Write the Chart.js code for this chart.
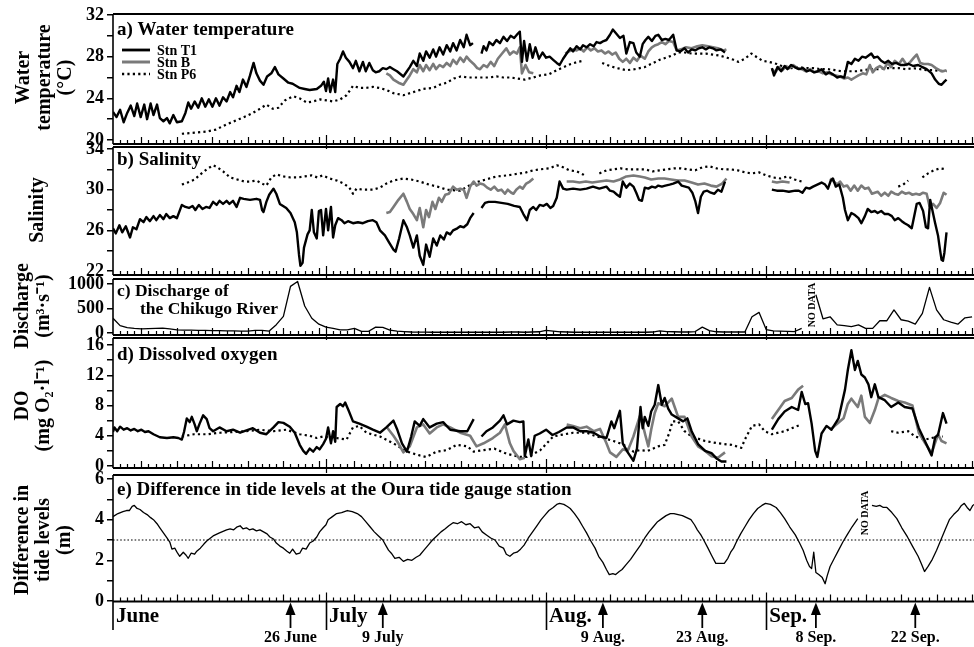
<!DOCTYPE html>
<html>
<head>
<meta charset="utf-8">
<script src="https://cdn.jsdelivr.net/npm/chart.js@4.4.1/dist/chart.umd.min.js"></script>
<style>
  html, body { margin: 0; padding: 0; background: #fff; }
  #wrap { position: relative; width: 974px; height: 647px; overflow: hidden; background: #fff; }
  #wrap canvas { position: absolute; left: 0; }
</style>
</head>
<body>
<div id="wrap"></div>
<script>
// ---- time axis: days counted from 1 June (0 = 1 June 00:00) ----
const DAY_MAX = 121.27;
const MONTH_NAMES = ['June', 'July', 'Aug.', 'Sep.'];
const MONTH_START = [0, 30, 61, 92];
const ARROW_DAYS = [25, 38, 69, 83, 99, 113];
const ARROW_LABELS = ['26 June', '9 July', '9 Aug.', '23 Aug.', '8 Sep.', '22 Sep.'];

// ---- tick labels ----
const TEMP_TICKS = [20, 24, 28, 32];
const SAL_TICKS = [22, 26, 30, 34];
const Q_TICKS = [0, 500, 1000];
const DO_TICKS = [0, 4, 8, 12, 16];
const TIDE_TICKS = [0, 2, 4, 6];
const TIDE_MEAN = 3;

// ---- a) water temperature (deg C), [day, value] ----
const TEMP_T1 = [[0.0,22.7],[0.5,22.2],[1.0,22.9],[1.5,21.7],[2.0,22.6],[2.5,23.3],[3.0,22.3],[3.4,23.5],[3.9,22.2],[4.4,23.4],[4.8,22.0],[5.3,23.5],[5.7,22.4],[6.2,23.4],[6.6,22.1],[7.1,21.8],[7.6,22.1],[8.0,21.6],[8.5,22.4],[9.0,21.7],[9.7,21.8],[10.2,22.6],[10.6,23.6],[11.0,23.0],[11.5,23.7],[12.0,23.1],[12.5,24.0],[13.0,23.2],[13.5,23.9],[14.0,23.2],[14.5,24.0],[15.0,23.3],[15.5,24.1],[16.0,23.7],[16.5,24.6],[16.9,24.1],[17.4,25.2],[17.8,24.6],[18.3,25.8],[18.8,25.1],[19.3,26.2],[19.8,27.4],[20.2,26.4],[20.7,25.7],[21.2,25.3],[21.7,26.1],[22.3,26.4],[22.8,27.0],[23.3,26.3],[24.0,25.9],[24.7,25.5],[25.3,25.4],[26.3,25.0],[27.0,24.9],[27.7,24.8],[28.7,24.9],[29.3,25.2],[29.7,25.6],[30.0,24.7],[30.3,25.9],[30.6,24.6],[31.0,25.8],[31.3,24.6],[31.6,27.3],[32.0,27.8],[32.4,28.5],[32.8,27.9],[33.3,27.5],[33.8,26.9],[34.2,27.6],[34.7,26.6],[35.2,27.5],[35.6,26.6],[36.1,27.4],[36.6,26.7],[37.0,26.5],[37.5,26.6],[38.0,26.9],[38.5,26.8],[39.0,27.0],[39.5,26.8],[40.0,26.6],[40.9,26.1],[41.4,26.6],[41.8,27.0],[42.3,27.6],[42.8,27.1],[43.2,28.3],[43.7,27.6],[44.1,28.5],[44.6,27.9],[45.1,28.7],[45.5,28.0],[46.0,28.9],[46.5,28.2],[47.0,29.1],[47.5,28.5],[47.9,29.3],[48.4,28.6],[48.9,29.6],[49.4,28.9],[49.8,30.1],[50.3,29.1],[50.7,29.3],[51.3,null],[51.9,28.3],[52.2,29.0],[52.6,28.6],[53.0,29.4],[53.5,29.1],[54.0,29.6],[54.5,29.3],[55.0,29.9],[55.5,29.5],[56.0,30.0],[56.5,29.8],[57.0,30.2],[57.3,30.4],[57.6,27.5],[57.9,29.5],[58.3,27.6],[58.7,29.2],[59.1,27.9],[59.5,28.9],[60.0,27.8],[60.5,28.4],[61.0,27.9],[61.5,28.0],[62.0,27.7],[62.5,27.4],[62.9,27.2],[63.4,27.8],[63.9,28.3],[64.4,28.8],[64.8,28.5],[65.3,29.0],[65.8,28.7],[66.2,29.1],[66.7,28.9],[67.2,29.2],[67.7,29.0],[68.1,29.4],[68.6,29.3],[69.1,29.5],[69.5,29.6],[70.0,30.1],[70.4,30.6],[70.9,30.2],[71.4,29.8],[71.9,30.0],[72.3,28.3],[72.8,29.4],[73.3,29.3],[73.7,28.4],[74.2,28.0],[74.6,29.2],[75.0,29.6],[75.4,29.9],[75.9,29.5],[76.4,30.0],[76.8,30.1],[77.3,29.6],[77.8,29.7],[78.3,29.6],[78.9,30.1],[79.4,28.6],[79.9,28.5],[80.5,28.8],[81.0,28.4],[81.5,28.7],[82.0,28.6],[82.5,28.8],[83.0,28.9],[83.5,28.7],[84.0,28.9],[84.5,28.8],[85.0,28.6],[85.6,28.7],[86.2,28.4],[89.0,null],[92.8,26.9],[93.1,26.2],[93.6,27.0],[94.1,26.6],[94.6,27.1],[95.0,26.8],[95.5,27.2],[96.0,27.0],[96.6,26.8],[97.2,26.9],[97.7,26.6],[98.2,26.7],[98.7,26.5],[99.3,26.6],[99.8,26.8],[100.4,26.3],[100.9,26.5],[101.4,26.3],[102.0,26.0],[102.5,26.1],[103.0,26.0],[103.5,27.5],[104.0,27.3],[104.5,27.8],[105.0,27.6],[105.5,28.0],[106.0,27.9],[106.8,28.3],[107.2,27.9],[107.7,28.0],[108.2,27.6],[108.7,27.4],[109.2,27.6],[109.7,27.3],[110.3,27.4],[110.9,27.2],[111.5,27.2],[112.1,27.3],[112.7,27.1],[113.4,27.2],[114.0,27.0],[114.6,26.8],[115.3,26.4],[115.8,25.8],[116.3,25.4],[116.7,25.3],[117.1,25.6],[117.4,25.8]];
const TEMP_B = [[38.5,26.4],[39.0,26.2],[39.5,25.8],[40.2,25.5],[40.9,25.3],[41.4,25.8],[41.8,26.2],[42.3,26.8],[42.8,26.5],[43.2,27.2],[43.7,26.6],[44.1,27.2],[44.6,26.7],[45.1,27.3],[45.5,26.8],[46.0,27.2],[46.5,27.0],[47.0,27.4],[47.5,27.1],[47.9,27.7],[48.4,27.3],[48.9,27.9],[49.4,27.5],[49.8,28.0],[50.3,27.6],[50.8,27.3],[51.3,26.9],[51.7,26.8],[52.2,27.2],[52.7,27.0],[53.2,27.5],[53.7,27.1],[54.2,27.8],[54.8,28.3],[55.4,28.8],[55.9,28.2],[56.4,28.5],[56.9,28.3],[57.3,28.9],[57.6,26.4],[58.1,27.2],[58.6,26.5],[59.2,26.4],[61.0,null],[63.7,28.3],[64.2,28.5],[64.8,28.7],[65.3,28.6],[65.8,28.8],[66.3,28.5],[66.8,28.9],[67.3,28.6],[67.8,28.8],[68.3,28.5],[68.8,28.6],[69.3,28.3],[69.8,28.5],[70.3,28.2],[70.8,28.4],[71.3,27.8],[71.8,27.5],[72.3,27.8],[72.8,27.4],[73.3,27.9],[73.8,27.6],[74.3,28.1],[74.9,27.8],[75.4,28.5],[75.9,28.9],[76.4,29.1],[76.8,29.2],[77.3,29.4],[77.8,29.2],[78.3,29.5],[78.9,29.4],[79.4,28.6],[80.0,28.7],[80.7,28.9],[81.5,28.8],[82.3,29.0],[83.0,29.1],[83.8,29.0],[84.5,28.9],[85.2,28.8],[86.0,28.6],[86.4,28.7],[89.0,null],[92.8,26.8],[93.3,26.5],[93.8,27.0],[94.3,26.7],[94.8,27.1],[95.3,26.9],[95.8,27.2],[96.4,26.9],[97.0,26.8],[97.6,26.6],[98.2,26.8],[98.8,26.5],[99.4,26.6],[100.0,26.4],[100.6,26.5],[101.2,26.3],[101.8,26.2],[102.4,26.1],[103.0,25.9],[103.5,26.0],[104.0,25.8],[104.5,26.0],[105.0,26.2],[105.6,26.4],[106.1,26.3],[106.6,27.2],[107.0,26.5],[107.5,26.9],[108.0,27.1],[108.6,26.8],[109.1,27.4],[109.6,27.0],[110.1,27.6],[110.7,27.3],[111.2,27.8],[111.8,27.2],[112.3,27.5],[112.8,27.9],[113.2,28.2],[113.7,27.4],[114.2,27.3],[114.8,27.3],[115.3,27.2],[115.9,26.9],[116.4,26.7],[116.9,26.6],[117.4,26.7]];
const TEMP_P6 = [[9.7,20.6],[11.5,20.7],[13.1,20.8],[14.5,21.0],[16.0,21.5],[17.4,21.9],[18.8,22.3],[19.7,22.6],[20.7,23.0],[21.6,23.4],[22.5,23.0],[23.3,23.1],[24.2,23.8],[25.4,24.2],[26.3,24.0],[27.3,23.6],[28.2,23.7],[29.2,23.9],[30.1,23.8],[31.0,23.7],[32.0,23.9],[32.9,24.3],[33.8,25.2],[34.7,25.0],[35.6,25.0],[36.6,25.1],[37.5,25.0],[38.5,24.8],[39.5,24.5],[40.9,24.3],[42.3,24.6],[43.7,24.9],[45.1,25.0],[46.0,25.3],[47.0,25.5],[48.0,25.9],[49.0,26.1],[50.0,26.0],[51.0,26.0],[52.0,26.0],[53.0,26.0],[54.0,26.1],[55.0,26.0],[56.0,26.0],[57.0,25.9],[58.0,25.8],[59.2,26.0],[60.2,26.2],[61.4,26.3],[62.5,26.7],[63.5,27.0],[64.5,27.3],[65.5,27.5],[66.2,27.6],[67.5,null],[68.9,27.4],[70.0,27.1],[71.0,26.9],[72.3,26.7],[73.5,26.8],[74.9,27.0],[75.8,27.3],[77.0,27.7],[78.7,28.1],[79.6,28.4],[80.5,28.4],[81.5,28.3],[82.5,28.3],[83.5,28.3],[84.5,28.2],[85.5,28.1],[86.5,27.9],[87.4,27.7],[88.1,27.5],[89.0,27.8],[89.9,28.3],[90.8,27.9],[91.5,27.6],[92.4,27.5],[93.5,27.3],[94.5,27.0],[95.6,26.9],[96.6,27.0],[97.6,26.9],[98.6,26.9],[99.7,26.8],[100.7,26.8],[101.7,26.7],[102.7,26.6],[103.7,26.6],[104.7,26.6],[105.7,26.7],[106.7,26.8],[107.7,26.8],[108.7,26.9],[109.7,26.9],[110.7,26.9],[111.7,26.8],[112.7,26.9],[113.7,26.8],[114.7,26.7],[115.7,26.7],[116.7,26.6],[117.4,26.6]];

// ---- b) salinity ----
const SAL_T1 = [[0.0,26.2],[0.4,25.7],[0.9,26.5],[1.3,25.8],[1.8,26.4],[2.4,25.3],[2.8,26.3],[3.3,26.1],[3.8,27.1],[4.3,26.8],[4.7,27.3],[5.2,26.9],[5.7,27.4],[6.1,27.0],[6.6,27.5],[7.1,27.1],[7.5,27.6],[8.0,27.2],[8.5,27.4],[9.0,27.2],[9.7,28.5],[10.2,28.3],[10.7,28.2],[11.2,28.4],[11.6,28.0],[12.1,28.5],[12.6,28.1],[13.1,28.3],[13.6,28.2],[14.1,28.8],[14.6,28.5],[15.0,28.9],[15.5,28.6],[16.0,28.9],[16.4,28.6],[16.9,28.9],[17.4,28.3],[17.9,29.2],[18.4,29.1],[19.3,29.0],[20.2,29.1],[20.7,29.0],[21.0,28.0],[21.2,27.8],[21.6,28.8],[22.0,29.5],[22.6,30.1],[23.0,29.6],[23.5,28.6],[24.4,28.2],[25.0,27.7],[25.6,26.8],[25.9,25.8],[26.2,23.6],[26.4,22.5],[26.7,22.8],[26.9,24.3],[27.4,25.6],[27.7,26.0],[28.0,28.0],[28.3,25.8],[28.7,25.2],[29.0,27.9],[29.3,28.0],[29.6,25.5],[30.0,28.1],[30.3,26.0],[30.7,28.3],[31.0,25.3],[31.3,26.5],[31.7,27.2],[32.2,27.0],[32.6,26.7],[33.1,26.9],[33.8,26.7],[34.5,26.8],[35.2,26.7],[35.9,26.9],[36.6,27.0],[37.1,26.8],[37.6,26.0],[38.3,25.5],[38.9,24.8],[39.5,24.1],[39.8,23.9],[40.3,25.2],[40.9,27.0],[41.4,26.3],[41.8,25.5],[42.3,24.3],[42.8,25.5],[43.2,23.5],[43.7,22.6],[44.1,24.6],[44.6,23.4],[45.1,25.2],[45.6,24.5],[46.1,25.5],[46.6,25.1],[47.0,25.8],[47.5,25.6],[47.9,26.0],[48.5,26.2],[48.9,26.4],[49.4,26.3],[49.9,26.6],[50.3,27.2],[50.8,27.7],[51.3,null],[51.9,28.2],[52.4,28.7],[52.9,28.8],[53.8,28.8],[54.7,28.7],[55.6,28.6],[56.5,28.4],[57.3,28.3],[57.8,27.6],[58.3,27.0],[58.7,28.0],[59.2,28.3],[59.6,28.0],[60.1,28.5],[60.6,28.4],[61.1,28.6],[61.6,28.2],[62.0,28.4],[62.5,29.2],[62.9,30.8],[63.4,30.1],[63.9,30.0],[64.8,30.1],[65.8,30.0],[66.7,30.1],[67.6,30.3],[68.5,30.1],[69.5,30.3],[70.0,29.9],[70.5,29.8],[71.0,29.5],[71.4,29.3],[71.8,30.8],[72.3,30.2],[72.8,30.6],[73.3,30.3],[73.7,29.7],[74.1,29.0],[74.5,28.9],[74.9,30.2],[75.4,30.1],[75.9,30.3],[76.4,30.2],[76.8,30.4],[77.3,30.3],[77.8,30.4],[78.4,30.5],[78.9,30.6],[79.6,30.8],[80.1,30.4],[80.6,30.3],[81.1,30.2],[81.6,29.7],[82.0,28.9],[82.4,27.7],[82.8,29.3],[83.2,29.8],[83.7,29.9],[84.2,29.7],[84.7,29.6],[85.2,30.0],[85.7,29.8],[86.2,30.8],[89.0,null],[92.8,30.0],[93.5,29.9],[94.3,29.9],[95.2,29.8],[96.1,29.9],[96.6,29.9],[97.1,29.7],[97.6,30.2],[98.1,30.1],[98.6,30.3],[99.2,30.5],[99.8,30.7],[100.3,30.5],[100.7,30.1],[101.1,30.9],[101.4,31.1],[101.8,30.3],[102.3,30.5],[102.8,29.2],[103.1,28.0],[103.5,27.0],[104.0,27.7],[104.5,27.5],[105.0,27.2],[105.4,26.7],[105.9,27.4],[106.3,28.1],[106.8,27.8],[107.3,27.9],[107.7,27.7],[108.2,27.9],[108.7,27.6],[109.2,27.6],[109.7,27.4],[110.1,27.0],[110.6,27.2],[111.1,26.9],[111.5,26.7],[112.0,26.5],[112.5,26.2],[113.2,28.6],[113.6,28.7],[114.1,27.9],[114.5,26.3],[114.8,26.2],[115.1,29.0],[115.4,28.0],[115.8,26.7],[116.2,25.5],[116.5,24.0],[116.7,23.1],[116.9,23.0],[117.1,23.8],[117.4,25.8]];
const SAL_B = [[38.5,27.7],[39.0,27.8],[39.5,28.3],[40.2,29.0],[40.9,29.6],[41.4,28.8],[41.8,28.1],[42.3,27.6],[42.8,27.0],[43.2,28.2],[43.7,26.3],[44.1,28.0],[44.5,27.3],[45.0,28.8],[45.4,28.1],[45.9,29.2],[46.3,28.8],[46.8,29.5],[47.3,29.6],[47.9,30.3],[48.4,30.0],[48.9,30.1],[49.4,30.0],[49.8,29.2],[50.3,30.3],[50.8,30.8],[51.2,30.4],[51.7,30.6],[52.2,30.5],[52.7,30.2],[53.2,30.0],[53.7,30.3],[54.2,29.9],[54.7,30.0],[55.2,29.6],[55.6,30.0],[56.1,29.7],[56.4,29.6],[56.8,30.0],[57.3,30.3],[57.7,30.1],[58.2,30.6],[58.7,30.8],[59.2,31.1],[61.0,null],[63.9,30.8],[64.8,30.8],[65.7,30.7],[66.6,30.8],[67.5,30.7],[68.5,30.8],[69.5,30.9],[70.5,30.8],[71.4,31.0],[72.3,31.3],[73.3,31.4],[74.2,31.3],[74.9,31.2],[75.8,31.0],[76.8,31.1],[77.7,31.1],[78.6,31.0],[79.6,30.9],[80.5,30.9],[81.5,30.7],[82.4,30.5],[83.3,30.6],[84.2,30.4],[85.0,30.3],[85.8,30.6],[86.4,31.1],[89.0,null],[92.8,30.8],[93.5,30.7],[94.3,30.8],[95.3,30.7],[98.0,null],[101.0,31.1],[101.5,30.8],[102.0,30.5],[102.4,30.8],[102.9,30.3],[103.4,30.4],[103.9,29.9],[104.4,30.4],[104.9,29.9],[105.4,30.4],[105.9,30.1],[106.4,30.2],[106.9,29.6],[107.7,29.8],[108.2,29.4],[108.7,29.7],[109.2,29.4],[109.6,29.8],[110.1,29.6],[110.6,29.5],[111.1,29.8],[111.6,29.6],[112.1,29.7],[112.6,29.5],[113.1,29.6],[113.6,29.5],[114.1,29.7],[114.6,29.6],[115.0,28.4],[115.5,28.6],[116.0,28.2],[116.5,28.7],[117.0,29.7],[117.4,29.5]];
const SAL_P6 = [[9.7,30.5],[10.5,30.7],[11.5,31.0],[12.3,31.5],[13.2,32.0],[14.1,32.4],[14.7,32.2],[15.5,31.8],[16.5,31.2],[17.5,31.0],[18.5,30.8],[19.3,30.8],[20.2,30.9],[21.0,30.6],[21.6,30.4],[22.3,31.2],[23.0,31.5],[24.0,31.3],[25.0,31.2],[26.0,31.2],[27.0,31.3],[28.0,31.4],[28.8,31.2],[29.5,31.4],[30.5,31.1],[31.5,30.9],[32.5,30.6],[33.3,30.2],[33.8,29.6],[34.3,30.1],[35.2,30.0],[36.6,30.0],[37.6,30.2],[38.5,30.6],[39.5,30.9],[40.9,31.1],[42.0,31.0],[43.2,30.8],[44.5,30.5],[45.7,30.3],[47.0,30.0],[48.9,29.9],[49.9,30.3],[51.0,30.7],[52.5,31.0],[54.0,31.3],[55.5,31.4],[57.3,31.6],[58.2,31.7],[59.2,31.9],[60.2,32.0],[61.5,32.1],[62.5,32.4],[63.4,32.2],[64.3,31.9],[65.3,31.8],[66.2,31.5],[66.7,31.3],[67.6,null],[68.5,31.6],[69.5,31.9],[70.5,32.0],[71.5,32.1],[72.5,32.0],[73.5,32.0],[74.9,32.0],[76.0,31.8],[77.0,31.9],[78.0,32.0],[79.0,32.1],[80.0,32.1],[81.0,32.0],[82.0,31.9],[83.0,32.2],[84.0,32.3],[85.0,32.1],[86.0,32.0],[87.0,32.0],[88.0,31.9],[89.0,31.7],[90.0,31.6],[91.0,31.7],[92.0,31.4],[93.0,31.2],[94.0,31.1],[95.0,31.3],[96.0,31.0],[97.0,30.8],[104.0,null],[110.6,30.3],[111.3,30.5],[112.0,30.9],[113.0,null],[114.0,31.2],[114.8,31.6],[115.6,31.9],[116.5,32.1],[117.4,32.0]];

// ---- c) daily discharge of the Chikugo River (m3/s), day 0..121 ----
const DISCHARGE = [300,150,110,95,85,90,95,100,85,65,60,60,55,55,50,50,45,45,40,40,55,55,40,170,340,950,1050,550,300,180,120,95,65,65,95,35,35,120,115,60,40,30,20,18,18,15,15,15,15,18,15,15,15,15,15,15,20,20,15,20,25,55,40,25,20,15,15,15,15,15,15,15,15,15,15,15,20,45,30,25,20,20,30,120,50,25,20,20,20,20,330,420,70,45,40,35,30,95,null,780,290,330,165,150,130,165,95,95,250,250,470,270,240,180,400,930,470,270,220,180,310,330];

// ---- d) dissolved oxygen (mg O2/l) ----
const DO_T1 = [[0.0,4.5],[0.2,5.1],[0.6,4.6],[1.0,5.2],[1.5,4.8],[2.0,5.0],[2.5,4.7],[3.0,4.9],[3.5,4.6],[4.0,4.8],[4.5,4.5],[5.0,4.6],[5.7,4.2],[6.6,3.8],[7.6,3.7],[8.5,3.8],[9.2,3.7],[9.7,3.5],[10.0,4.5],[10.4,6.3],[10.8,5.8],[11.1,6.5],[11.5,5.5],[11.8,4.6],[12.2,5.6],[12.7,6.7],[13.2,6.2],[13.6,5.0],[14.1,4.6],[15.0,5.1],[16.0,4.6],[16.9,4.8],[17.9,4.4],[18.8,4.7],[19.7,5.0],[20.7,4.4],[21.6,4.2],[22.6,5.1],[23.3,5.8],[24.0,5.7],[24.9,5.2],[25.6,4.4],[26.3,2.8],[26.8,2.0],[27.2,1.6],[27.7,2.3],[28.2,1.9],[28.7,2.5],[29.1,2.2],[29.6,2.9],[30.0,3.6],[30.3,5.1],[30.7,3.0],[31.0,4.6],[31.3,3.2],[31.5,7.8],[32.0,8.2],[32.4,7.9],[32.7,8.4],[33.2,7.3],[33.8,5.9],[34.7,5.6],[35.7,5.2],[36.6,4.8],[37.6,4.4],[38.5,5.1],[39.5,6.0],[40.0,4.9],[40.7,3.0],[41.4,1.9],[42.0,3.9],[42.5,5.9],[43.2,5.3],[43.7,6.2],[44.6,5.1],[45.6,5.6],[46.5,5.8],[47.5,4.8],[48.9,4.6],[49.9,4.6],[50.8,6.2],[51.3,null],[51.9,3.9],[52.6,4.6],[53.5,5.1],[54.5,6.0],[55.0,6.7],[55.5,5.5],[56.4,6.0],[57.3,5.8],[57.8,5.9],[58.0,1.3],[58.5,3.5],[58.9,1.3],[59.4,4.0],[60.1,4.3],[61.0,4.8],[61.9,4.1],[62.8,4.5],[63.9,5.1],[64.8,5.1],[65.8,4.6],[66.7,4.6],[67.7,4.4],[68.6,3.9],[69.5,3.7],[70.2,5.9],[70.6,5.0],[71.4,7.3],[71.8,3.0],[72.5,1.8],[73.3,0.7],[73.8,2.3],[74.3,7.8],[74.6,5.0],[74.9,6.5],[75.4,5.3],[75.8,7.2],[76.3,8.1],[76.8,10.7],[77.3,8.1],[77.7,9.0],[78.2,7.6],[78.7,6.8],[79.6,6.3],[80.3,5.9],[80.9,6.3],[81.5,4.6],[82.4,2.9],[83.4,2.0],[84.3,1.7],[85.0,1.0],[85.7,0.6],[86.4,0.6],[89.0,null],[92.8,4.8],[93.7,6.2],[94.6,7.2],[95.6,7.8],[96.5,7.4],[97.0,9.8],[97.5,8.2],[97.9,8.3],[98.4,5.6],[98.9,2.0],[99.2,1.2],[99.8,4.3],[100.5,5.3],[101.2,4.8],[102.2,6.3],[103.1,10.1],[103.5,12.7],[104.0,15.3],[104.5,12.7],[104.9,13.9],[105.4,12.1],[105.9,11.7],[106.4,10.8],[106.8,9.1],[107.3,10.8],[107.8,9.1],[108.7,8.7],[109.6,7.8],[110.6,8.4],[111.5,7.8],[112.6,7.6],[113.5,5.0],[114.4,3.2],[115.0,2.0],[115.3,1.4],[115.8,3.8],[116.2,4.1],[116.9,7.0],[117.4,5.6]];
const DO_B = [[38.6,5.1],[39.5,4.0],[40.2,3.0],[40.9,1.8],[41.8,2.6],[42.8,5.1],[43.7,5.5],[44.6,4.3],[45.6,5.1],[46.5,5.5],[47.5,5.1],[48.9,4.4],[50.3,4.0],[51.2,2.6],[52.2,3.0],[53.5,3.7],[54.5,4.4],[55.2,5.5],[55.9,3.0],[56.4,2.0],[57.3,0.9],[58.0,1.1],[61.0,null],[63.9,5.5],[64.8,5.3],[65.8,5.0],[66.7,5.2],[67.7,4.6],[68.6,4.9],[69.5,3.0],[70.0,1.8],[70.9,1.2],[71.8,2.2],[72.5,2.0],[73.3,3.9],[74.2,6.6],[74.6,5.5],[75.0,4.0],[75.4,2.6],[75.8,4.8],[76.3,7.0],[76.8,8.3],[77.7,7.9],[78.7,8.9],[79.6,6.5],[80.5,6.5],[81.5,3.9],[82.4,2.6],[83.4,2.0],[84.3,1.3],[85.2,1.1],[86.2,1.8],[89.0,null],[92.8,6.2],[93.7,7.4],[94.6,8.6],[95.6,9.0],[96.5,10.1],[97.2,10.6],[99.0,null],[101.0,4.8],[102.0,5.6],[102.9,6.3],[103.5,8.2],[104.0,8.9],[104.9,7.8],[105.4,9.3],[105.9,6.5],[106.6,5.7],[107.3,7.4],[107.8,8.9],[108.7,9.4],[109.6,9.0],[110.6,8.6],[111.5,8.4],[112.6,8.0],[113.5,4.4],[114.4,3.0],[115.3,1.7],[116.2,4.2],[116.7,3.3],[117.4,3.0]];
const DO_P6 = [[9.7,3.9],[11.4,4.2],[13.3,4.2],[15.1,4.4],[17.0,4.5],[18.8,4.6],[20.7,4.8],[22.6,4.6],[24.4,4.8],[26.3,4.2],[27.7,4.0],[28.7,3.7],[29.6,3.9],[30.5,3.8],[31.5,3.7],[32.9,3.5],[33.8,5.1],[34.7,5.3],[35.7,4.4],[37.6,3.9],[39.5,3.0],[41.4,1.9],[43.2,1.4],[44.1,1.2],[45.6,1.9],[47.0,2.1],[48.4,2.8],[49.9,2.6],[50.8,1.9],[52.2,2.1],[53.7,2.3],[55.5,1.6],[57.3,1.2],[58.3,1.2],[59.2,1.6],[60.2,2.1],[61.1,3.0],[62.0,3.9],[63.0,4.1],[64.8,4.4],[66.7,4.4],[68.1,3.9],[69.1,3.7],[70.5,3.3],[71.4,3.0],[72.3,2.6],[73.3,1.9],[74.2,2.1],[75.3,2.0],[76.8,2.6],[77.7,2.8],[78.4,4.5],[78.8,5.9],[79.6,5.9],[80.5,4.6],[81.5,3.9],[83.4,3.3],[85.2,3.0],[87.1,2.8],[88.5,2.4],[89.0,3.5],[90.0,5.3],[91.0,5.5],[91.8,4.6],[92.8,4.2],[94.6,4.6],[96.4,5.3],[97.0,5.5],[103.0,null],[109.6,4.6],[110.6,4.4],[112.0,4.6],[113.0,3.9],[114.4,3.5],[115.3,3.7],[116.2,3.9],[116.9,3.9]];

// ---- e) difference in tide levels at Oura (m) ----
const TIDE = [[0.0,4.15],[0.7,4.3],[1.4,4.4],[1.9,4.45],[2.3,4.45],[2.7,4.65],[3.0,4.7],[3.4,4.55],[3.8,4.5],[4.3,4.35],[4.8,4.25],[5.3,4.1],[5.7,4.0],[6.2,3.8],[6.6,3.6],[7.1,3.35],[7.6,3.1],[8.0,2.9],[8.3,2.55],[8.7,2.6],[9.1,2.35],[9.4,2.2],[9.9,2.4],[10.3,2.25],[10.6,2.1],[11.0,2.35],[11.5,2.3],[11.8,2.45],[12.3,2.6],[12.8,2.8],[13.2,2.95],[14.1,3.2],[15.0,3.35],[16.0,3.5],[16.5,3.55],[17.0,3.5],[17.5,3.65],[17.9,3.7],[18.3,3.55],[18.8,3.6],[19.2,3.5],[19.7,3.55],[20.2,3.45],[20.7,3.5],[21.2,3.4],[21.7,3.3],[22.1,3.15],[22.6,3.05],[23.0,2.85],[23.5,2.7],[24.0,2.6],[24.5,2.45],[24.9,2.35],[25.3,2.55],[25.8,2.3],[26.3,2.35],[26.7,2.6],[27.2,2.55],[27.7,2.85],[28.2,2.95],[28.7,3.15],[29.1,3.4],[29.6,3.6],[30.0,3.75],[30.3,4.0],[30.9,4.15],[31.5,4.3],[32.2,4.35],[33.0,4.45],[33.7,4.4],[34.4,4.3],[35.0,4.15],[35.6,3.9],[36.2,3.65],[36.8,3.4],[37.4,3.2],[38.0,3.0],[38.4,2.75],[38.8,2.5],[39.2,2.35],[39.7,2.1],[40.3,2.15],[40.9,1.95],[41.5,2.05],[42.1,2.0],[42.7,2.15],[43.2,2.25],[43.8,2.5],[44.4,2.75],[45.0,3.0],[45.6,3.2],[46.2,3.4],[46.8,3.55],[47.3,3.7],[47.9,3.85],[48.5,3.8],[49.1,3.9],[49.7,3.75],[50.3,3.8],[50.9,3.6],[51.5,3.65],[52.0,3.4],[52.6,3.25],[53.2,3.1],[53.8,3.0],[54.4,2.7],[55.0,2.6],[55.4,2.3],[55.9,2.2],[56.4,2.35],[56.9,2.4],[57.4,2.55],[57.9,2.75],[58.5,3.1],[59.1,3.4],[59.7,3.7],[60.3,4.0],[60.9,4.25],[61.4,4.45],[62.0,4.6],[62.5,4.75],[62.9,4.8],[63.5,4.75],[64.0,4.65],[64.4,4.55],[65.0,4.3],[65.6,4.0],[66.1,3.7],[66.7,3.35],[67.3,2.95],[67.9,2.6],[68.4,2.2],[69.0,1.9],[69.5,1.55],[69.9,1.3],[70.4,1.35],[70.8,1.3],[71.3,1.45],[71.7,1.55],[72.3,1.8],[72.9,2.05],[73.6,2.4],[74.3,2.75],[74.9,3.1],[75.5,3.4],[76.1,3.65],[76.7,3.9],[77.3,4.05],[77.9,4.2],[78.5,4.3],[79.0,4.3],[79.6,4.25],[80.2,4.2],[80.8,4.1],[81.4,4.0],[81.9,3.75],[82.3,3.5],[82.8,3.25],[83.2,3.0],[83.8,2.6],[84.3,2.25],[84.9,1.85],[85.5,1.85],[86.1,1.85],[86.6,2.1],[87.0,2.4],[87.4,2.6],[87.8,2.9],[88.4,3.3],[89.0,3.65],[89.6,4.0],[90.2,4.3],[90.8,4.55],[91.4,4.7],[91.9,4.8],[92.6,4.75],[93.4,4.6],[94.0,4.35],[94.6,4.05],[95.3,3.65],[96.1,3.25],[96.7,2.85],[97.2,2.5],[97.7,2.0],[98.1,1.7],[98.4,1.6],[98.7,2.4],[99.0,1.4],[99.4,1.3],[99.9,1.15],[100.3,0.85],[100.6,1.25],[101.0,1.7],[101.6,2.1],[102.2,2.5],[102.8,2.9],[103.4,3.25],[104.1,3.65],[104.9,4.05],[105.9,null],[106.9,4.7],[107.5,4.65],[108.0,4.7],[108.5,4.6],[109.0,4.6],[109.7,4.35],[110.4,4.05],[111.1,3.6],[111.9,3.15],[112.6,2.7],[113.4,2.2],[113.9,1.8],[114.3,1.45],[114.8,1.7],[115.4,2.05],[116.0,2.5],[116.6,3.0],[117.2,3.5],[117.8,4.0],[118.4,4.25],[119.0,4.45],[119.5,4.7],[119.9,4.8],[120.3,4.6],[120.7,4.45],[121.1,4.7],[121.3,4.75]];

// ---------------------------------------------------------------
const FONT = '"Liberation Serif", "Times New Roman", serif';
const toXY = pairs => pairs.map(([x, y]) => ({ x, y }));
const dailyXY = vals => vals.map((y, i) => ({ x: i, y }));

const STYLE = {
  t1: { borderColor: '#000', borderWidth: 2.4 },
  b:  { borderColor: '#7a7a7a', borderWidth: 2.6 },
  p6: { borderColor: '#000', borderWidth: 2.2, borderDash: [2.2, 3.2] },
  thin: { borderColor: '#000', borderWidth: 1.3 },
  mean: { borderColor: '#000', borderWidth: 1.2, borderDash: [1.6, 2] }
};

function monthIndex(d) {
  let m = 0;
  for (let i = 0; i < MONTH_START.length; i++) if (d >= MONTH_START[i]) m = i;
  return m;
}

function withMinor(ticks) {
  const out = [];
  ticks.forEach((v, i) => {
    out.push(v);
    if (i < ticks.length - 1) out.push((v + ticks[i + 1]) / 2);
  });
  return out;
}

const panels = [
  { key: 'a', top: 15, bottom: 140, min: 20, max: 32, ticks: TEMP_TICKS, all: withMinor(TEMP_TICKS),
    yTitle: ['Water', 'temperature', '(°C)'], titlePad: 13.5, topLine: 14, axisLine: 144,
    heading: [['a) Water temperature', 117, 35, 19]],
    series: [[TEMP_T1, 't1'], [TEMP_B, 'b'], [TEMP_P6, 'p6']] },
  { key: 'b', top: 149, bottom: 271, min: 22, max: 34, ticks: SAL_TICKS, all: withMinor(SAL_TICKS),
    yTitle: ['Salinity'], titlePad: 27.5, topLine: 147, axisLine: 275,
    heading: [['b) Salinity', 117, 165, 19]],
    series: [[SAL_T1, 't1'], [SAL_B, 'b'], [SAL_P6, 'p6']] },
  { key: 'c', top: 279, bottom: 333, min: 0, max: 1100, ticks: Q_TICKS, all: Q_TICKS,
    yTitle: ['Discharge', '(m³·s⁻¹)'], titlePad: 12.5, topLine: 279, axisLine: 335,
    heading: [['c) Discharge of', 117, 296, 17.5], ['the Chikugo River', 140, 314, 17.5]],
    noData: [812, 305],
    series: [[DISCHARGE, 'thin', true]] },
  { key: 'd', top: 345, bottom: 466, min: 0, max: 16, ticks: DO_TICKS, all: withMinor(DO_TICKS),
    yTitle: ['DO', '(mg O₂·l⁻¹)'], titlePad: 12.5, topLine: 338, axisLine: 468,
    heading: [['d) Dissolved oxygen', 117, 360, 19]],
    series: [[DO_T1, 't1'], [DO_B, 'b'], [DO_P6, 'p6']] },
  { key: 'e', top: 479, bottom: 601, min: 0, max: 6, ticks: TIDE_TICKS, all: withMinor(TIDE_TICKS),
    yTitle: ['Difference in', 'tide levels', '(m)'], titlePad: 12.5, topLine: 475, axisLine: 601.5,
    heading: [['e) Difference in tide levels at the Oura tide gauge station', 117, 495, 19]],
    noData: [865, 513],
    series: [[TIDE, 'thin'], [[[0, TIDE_MEAN], [DAY_MAX, TIDE_MEAN]], 'mean']], bottomExtras: true }
];

function makeFrame(p) {
  return {
    id: 'frame' + p.key,
    afterDraw(chart) {
      const ctx = chart.ctx;
      const area = chart.chartArea;
      const xs = chart.scales.x;
      const Y = v => v - p.canvasTop;
      const left = area.left, right = area.right;
      const base = Y(p.axisLine);
      ctx.save();
      ctx.strokeStyle = '#000';
      ctx.fillStyle = '#000';

      // top rule and bottom axis
      ctx.lineWidth = 2;
      ctx.beginPath();
      ctx.moveTo(left, Y(p.topLine)); ctx.lineTo(right, Y(p.topLine));
      ctx.moveTo(left, base); ctx.lineTo(right, base);
      ctx.stroke();

      // left axis
      ctx.lineWidth = 1.6;
      ctx.beginPath();
      ctx.moveTo(left, Y(p.topLine));
      ctx.lineTo(left, p.bottomExtras ? Y(630) : base);
      ctx.stroke();

      // daily ticks on the bottom axis, longer every 5th day, month starts cross the axis
      ctx.lineWidth = 1.2;
      ctx.beginPath();
      for (let d = 1; d <= Math.floor(DAY_MAX); d++) {
        const m = monthIndex(d);
        const dom = d - MONTH_START[m] + 1;
        const x = Math.round(xs.getPixelForValue(d)) + 0.5;
        let up = 4, down = 0;
        if (dom === 1) { up = 9; down = p.bottomExtras ? 0 : 5; }
        else if (dom % 5 === 0) up = 7;
        ctx.moveTo(x, base + down);
        ctx.lineTo(x, base - up);
      }
      ctx.stroke();

      // panel headings
      ctx.textBaseline = 'alphabetic';
      ctx.textAlign = 'left';
      p.heading.forEach(([t, x, y, size]) => {
        ctx.font = 'bold ' + size + 'px ' + FONT;
        ctx.fillText(t, x, Y(y));
      });

      // legend
      if (p.key === 'a') {
        const rows = [['Stn T1', 't1', 50], ['Stn B', 'b', 62], ['Stn P6', 'p6', 74]];
        rows.forEach(([label, st, y]) => {
          const s = STYLE[st];
          ctx.save();
          ctx.strokeStyle = s.borderColor;
          ctx.lineWidth = s.borderWidth + 0.4;
          ctx.setLineDash(s.borderDash || []);
          ctx.beginPath();
          ctx.moveTo(122, Y(y)); ctx.lineTo(150, Y(y));
          ctx.stroke();
          ctx.restore();
          ctx.font = 'bold 14px ' + FONT;
          ctx.fillText(label, 157, Y(y) + 5);
        });
      }

      // missing-data note
      if (p.noData) {
        ctx.save();
        ctx.translate(p.noData[0], Y(p.noData[1]));
        ctx.rotate(-Math.PI / 2);
        ctx.font = 'bold 10px ' + FONT;
        ctx.textAlign = 'center';
        ctx.textBaseline = 'middle';
        ctx.fillText('NO DATA', 0, 0);
        ctx.restore();
      }

      // month names, month separators and the marked dates
      if (p.bottomExtras) {
        ctx.lineWidth = 1.6;
        ctx.beginPath();
        MONTH_START.forEach(d => {
          if (d === 0) return;
          const x = Math.round(xs.getPixelForValue(d)) + 0.5;
          ctx.moveTo(x, base); ctx.lineTo(x, Y(630));
        });
        ctx.stroke();
        ctx.font = 'bold 21px ' + FONT;
        MONTH_NAMES.forEach((name, i) => {
          ctx.fillText(name, xs.getPixelForValue(MONTH_START[i]) + 3, Y(622));
        });
        ctx.font = 'bold 16px ' + FONT;
        ctx.textAlign = 'center';
        ARROW_DAYS.forEach((d, i) => {
          const x = xs.getPixelForValue(d);
          ctx.lineWidth = 1.8;
          ctx.beginPath();
          ctx.moveTo(x, Y(628)); ctx.lineTo(x, Y(612));
          ctx.stroke();
          ctx.beginPath();
          ctx.moveTo(x, Y(602.5));
          ctx.lineTo(x - 5, Y(615));
          ctx.lineTo(x + 5, Y(615));
          ctx.closePath();
          ctx.fill();
          ctx.fillText(ARROW_LABELS[i], x, Y(642));
        });
      }
      ctx.restore();
    }
  };
}

const wrap = document.getElementById('wrap');
panels.forEach(p => {
  const padTop = Math.min(30, p.top);
  const padBottom = p.bottomExtras ? 647 - p.bottom : 30;
  p.canvasTop = p.top - padTop;
  const h = p.bottom - p.top + padTop + padBottom;
  const cv = document.createElement('canvas');
  cv.width = 974; cv.height = h;
  cv.style.top = p.canvasTop + 'px';
  cv.style.width = '974px'; cv.style.height = h + 'px';
  wrap.appendChild(cv);

  const datasets = p.series.map(([vals, st, daily]) => Object.assign({
    data: daily ? dailyXY(vals) : toXY(vals),
    pointRadius: 0,
    fill: false,
    tension: 0,
    spanGaps: false,
    borderJoinStyle: 'round'
  }, STYLE[st]));

  new Chart(cv, {
    type: 'line',
    data: { datasets },
    options: {
      responsive: false,
      animation: false,
      devicePixelRatio: 1,
      events: [],
      layout: { padding: { top: padTop, bottom: padBottom, left: 0, right: 0 } },
      plugins: { legend: { display: false }, tooltip: { enabled: false } },
      scales: {
        x: { type: 'linear', min: 0, max: DAY_MAX, display: false },
        y: {
          type: 'linear', min: p.min, max: p.max,
          afterFit: s => { s.width = 113; },
          afterBuildTicks: s => { s.ticks = p.all.map(v => ({ value: v })); },
          ticks: {
            autoSkip: false, color: '#000', padding: 3,
            font: { family: FONT, size: 18, weight: 'bold' },
            callback: v => (p.ticks.includes(v) ? String(v) : '')
          },
          grid: { drawOnChartArea: false, drawTicks: true, tickLength: 6, color: '#000', lineWidth: 1.5 },
          border: { display: false },
          title: {
            display: true, text: p.yTitle, color: '#000',
            font: { family: FONT, size: 20, weight: 'bold', lineHeight: 1.05 },
            padding: { top: p.titlePad, bottom: 0 }
          }
        }
      }
    },
    plugins: [makeFrame(p)]
  });
});
</script>
</body>
</html>
